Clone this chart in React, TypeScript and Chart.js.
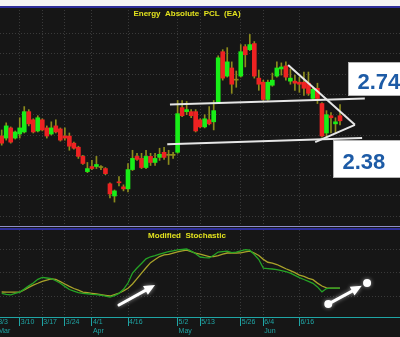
import React, { useEffect, useRef } from "react";
import { Chart, registerables } from "chart.js";

Chart.register(...registerables);

// ---- x axis (trading-day index) ----
const X_TICK_IDX = [-1, 4, 9, 14, 20, 28, 39, 44, 53, 58, 66];
const X_TICK_LABELS = ["3/3", "3/10", "3/17", "3/24", "4/1", "4/16", "5/2", "5/13", "5/26", "6/4", "6/16"];
const MONTH_LABELS = ["Mar", "", "", "", "Apr", "", "May", "", "", "Jun", ""];

// ---- price candles ----
const OPEN = [2.39, 2.37, 2.47, 2.37, 2.41, 2.43, 2.63, 2.55, 2.44, 2.55, 2.47, 2.41, 2.49, 2.46, 2.39, 2.39, 2.32, 2.28, 2.19, 2.04, 2.09, 2.09, 2.08, 2.07, 1.92, 1.80, 1.94, 1.89, 1.87, 2.06, 2.19, 2.17, 2.08, 2.19, 2.13, 2.18, 2.23, 2.20, 2.20, 2.23, 2.67, 2.63, 2.63, 2.63, 2.55, 2.48, 2.55, 2.53, 2.72, 3.22, 2.98, 3.06, 2.94, 2.98, 3.27, 3.24, 3.30, 2.96, 2.92, 2.75, 2.89, 2.98, 3.05, 3.08, 2.93, 2.93, 2.92, 2.92, 2.91, 2.76, 2.86, 2.71, 2.42, 2.59, 2.51, 2.59];
const HIGH = [2.45, 2.52, 2.48, 2.44, 2.57, 2.68, 2.65, 2.56, 2.59, 2.56, 2.49, 2.53, 2.55, 2.47, 2.47, 2.42, 2.33, 2.29, 2.20, 2.13, 2.15, 2.19, 2.10, 2.08, 1.93, 1.86, 1.99, 1.91, 2.12, 2.25, 2.22, 2.22, 2.25, 2.22, 2.22, 2.27, 2.28, 2.25, 2.23, 2.74, 2.74, 2.73, 2.65, 2.65, 2.56, 2.60, 2.68, 2.74, 3.18, 3.24, 3.26, 3.12, 3.03, 3.29, 3.29, 3.39, 3.32, 3.04, 2.94, 2.94, 3.01, 3.12, 3.11, 3.12, 3.05, 2.99, 2.97, 3.02, 3.02, 2.87, 2.91, 2.72, 2.64, 2.62, 2.57, 2.70];
const LOW = [2.30, 2.35, 2.32, 2.36, 2.37, 2.42, 2.49, 2.42, 2.43, 2.44, 2.37, 2.40, 2.42, 2.34, 2.35, 2.25, 2.26, 2.17, 2.11, 2.03, 2.06, 2.07, 2.06, 2.01, 1.78, 1.74, 1.90, 1.85, 1.84, 2.05, 2.15, 2.07, 2.07, 2.10, 2.10, 2.15, 2.16, 2.11, 2.17, 2.22, 2.58, 2.60, 2.57, 2.43, 2.47, 2.47, 2.50, 2.45, 2.71, 2.94, 2.97, 2.81, 2.87, 2.97, 3.07, 3.23, 2.96, 2.84, 2.74, 2.74, 2.88, 2.97, 2.99, 2.94, 2.90, 2.84, 2.82, 2.79, 2.79, 2.74, 2.71, 2.38, 2.38, 2.42, 2.42, 2.50];
const CLOSE = [2.32, 2.49, 2.33, 2.43, 2.47, 2.63, 2.51, 2.43, 2.57, 2.45, 2.39, 2.47, 2.43, 2.35, 2.37, 2.29, 2.27, 2.19, 2.12, 2.07, 2.07, 2.11, 2.08, 2.02, 1.82, 1.85, 1.93, 1.87, 2.06, 2.17, 2.16, 2.08, 2.19, 2.13, 2.17, 2.21, 2.18, 2.20, 2.20, 2.61, 2.59, 2.65, 2.59, 2.44, 2.48, 2.56, 2.51, 2.64, 3.16, 2.96, 3.12, 2.90, 2.94, 3.22, 3.19, 3.29, 2.98, 2.90, 2.75, 2.92, 2.94, 3.06, 3.07, 2.97, 2.96, 2.91, 2.90, 2.86, 2.81, 2.85, 2.76, 2.39, 2.60, 2.57, 2.53, 2.54];

// ---- modified stochastic ----
const STOCH_K = [23.4, 22.2, 21.5, 23.3, 25.0, 28.8, 32.9, 36.5, 41.3, 43.8, 43.0, 42.1, 39.5, 36.3, 32.3, 28.3, 26.3, 24.4, 23.4, 22.9, 22.2, 21.7, 21.0, 19.9, 18.7, 20.4, 23.4, 28.5, 36.6, 49.3, 55.7, 61.6, 67.5, 70.1, 71.6, 73.4, 75.0, 76.6, 77.7, 78.8, 79.4, 80.0, 77.3, 73.9, 69.8, 69.1, 68.6, 72.1, 76.2, 76.8, 77.3, 75.4, 76.0, 77.7, 79.1, 78.5, 73.0, 66.6, 55.7, 55.1, 54.5, 53.6, 52.5, 51.0, 49.3, 46.3, 43.5, 41.1, 38.7, 36.2, 31.6, 25.3, 29.5, 30.2, 30.2, 30.2];
const STOCH_D = [25.1, 25.0, 25.0, 25.0, 25.0, 27.9, 31.1, 34.0, 36.3, 38.8, 40.4, 41.8, 41.2, 38.4, 35.4, 32.4, 29.6, 27.4, 25.1, 24.3, 23.4, 22.6, 21.9, 20.9, 20.0, 21.8, 23.7, 26.6, 29.9, 35.3, 42.2, 49.2, 56.1, 62.6, 66.6, 70.4, 72.6, 73.2, 74.8, 76.3, 77.6, 78.6, 76.7, 74.8, 73.5, 72.0, 70.4, 70.3, 71.7, 73.4, 74.9, 74.9, 74.9, 75.0, 76.3, 77.3, 74.9, 71.7, 66.8, 63.1, 62.0, 60.2, 57.5, 54.8, 52.4, 49.8, 46.6, 45.0, 42.5, 40.9, 36.5, 32.8, 30.4, 30.2, 30.2, 30.2];

// ---- grid values ----
const PRICE_GRID = [3.4, 3.2, 3.0, 2.8, 2.6, 2.4, 2.2, 2.0, 1.8, 1.6];
const STOCH_GRID = [20, 50, 80];

// ---- annotations (data coordinates) ----
const TREND_LINES = [
  [{ x: 37.3, y: 2.70 }, { x: 80.5, y: 2.76 }],
  [{ x: 36.7, y: 2.31 }, { x: 79.9, y: 2.37 }],
  [{ x: 63.5, y: 3.09 }, { x: 78.3, y: 2.50 }],
  [{ x: 69.5, y: 2.33 }, { x: 78.3, y: 2.50 }],
];
const LEVEL_BOXES = [
  { text: "2.74", x: 76.8, top: 3.12, bottom: 2.79 },
  { text: "2.38", x: 73.5, top: 2.35, bottom: 1.99 },
];
const ARROWS = [
  { from: { x: 26.0, y: 8.5 }, to: { x: 34.0, y: 34.0 }, dots: false },
  { from: { x: 72.4, y: 9.8 }, to: { x: 81.0, y: 36.6 }, dots: true },
];

const X_MIN = -0.377;
const X_MAX = 88.3;
const GREEN = "#18ee18";
const RED = "#ee2222";
const WICK = "#8c8c1c";
const GRID = "#3a3a3a";
const TEAL = "#1fa5a5";
const FONT = '"Liberation Sans", Arial, sans-serif';

const xAxisBase = {
  type: "linear" as const,
  min: X_MIN,
  max: X_MAX,
  offset: false,
  afterBuildTicks: (s: any) => {
    s.ticks = X_TICK_IDX.map((v) => ({ value: v }));
  },
};

const topDecor = {
  id: "topDecor",
  afterDraw(chart: any) {
    const { ctx } = chart;
    const xs = chart.scales.x;
    const ys = chart.scales.y;
    ctx.save();
    ctx.font = `bold 8px ${FONT}`;
    ctx.fillStyle = "#e2e21e";
    ctx.textAlign = "center";
    ctx.textBaseline = "alphabetic";
    ctx.fillText("Energy  Absolute  PCL  (EA)", 187, 9);
    for (const b of LEVEL_BOXES) {
      const l = Math.round(xs.getPixelForValue(b.x)) + 0.5;
      const t = Math.round(ys.getPixelForValue(b.top)) + 0.5;
      const bt = Math.round(ys.getPixelForValue(b.bottom)) + 0.5;
      ctx.fillStyle = "#ffffff";
      ctx.fillRect(l, t, chart.width - l + 5, bt - t);
      ctx.strokeStyle = "#b5b5b5";
      ctx.lineWidth = 1;
      ctx.strokeRect(l, t, chart.width - l + 5, bt - t);
      ctx.fillStyle = "#1d5ba6";
      ctx.font = `bold 22px ${FONT}`;
      ctx.textAlign = "left";
      ctx.fillText(b.text, l + 9, (t + bt) / 2 + 10.3);
    }
    ctx.restore();
  },
};

function drawArrow(ctx: CanvasRenderingContext2D, x1: number, y1: number, x2: number, y2: number) {
  const ang = Math.atan2(y2 - y1, x2 - x1);
  const head = 11;
  const hw = 5;
  const bx = x2 - head * Math.cos(ang);
  const by = y2 - head * Math.sin(ang);
  ctx.beginPath();
  ctx.moveTo(x1, y1);
  ctx.lineTo(bx, by);
  ctx.stroke();
  ctx.beginPath();
  ctx.moveTo(x2, y2);
  ctx.lineTo(bx + hw * Math.sin(ang), by - hw * Math.cos(ang));
  ctx.lineTo(bx - hw * Math.sin(ang), by + hw * Math.cos(ang));
  ctx.closePath();
  ctx.fill();
}

const bottomDecor = {
  id: "bottomDecor",
  afterDatasetsDraw(chart: any) {
    const { ctx } = chart;
    const xs = chart.scales.x;
    const ys = chart.scales.y;
    ctx.save();
    ctx.font = `bold 8px ${FONT}`;
    ctx.fillStyle = "#e2e21e";
    ctx.textAlign = "center";
    ctx.textBaseline = "alphabetic";
    ctx.fillText("Modified  Stochastic", 187, 7.5);

    ctx.strokeStyle = "#ffffff";
    ctx.fillStyle = "#ffffff";
    ctx.lineWidth = 3;
    ctx.lineCap = "round";
    ctx.shadowColor = "rgba(255,255,255,0.55)";
    ctx.shadowBlur = 4;
    for (const a of ARROWS) {
      const x1 = xs.getPixelForValue(a.from.x);
      const y1 = ys.getPixelForValue(a.from.y);
      const x2 = xs.getPixelForValue(a.to.x);
      const y2 = ys.getPixelForValue(a.to.y);
      if (a.dots) {
        const ang = Math.atan2(y2 - y1, x2 - x1);
        const r = 4;
        const tx = x2 - (r + 2) * Math.cos(ang);
        const ty = y2 - (r + 2) * Math.sin(ang);
        const sx = x1 + r * Math.cos(ang);
        const sy = y1 + r * Math.sin(ang);
        drawArrow(ctx, sx, sy, tx, ty);
        for (const [cx, cy] of [[x1, y1], [x2, y2]]) {
          ctx.beginPath();
          ctx.arc(cx, cy, r, 0, Math.PI * 2);
          ctx.fill();
        }
      } else {
        drawArrow(ctx, x1, y1, x2, y2);
      }
    }
    ctx.restore();
  },
};

export default function App() {
  const topRef = useRef<HTMLCanvasElement>(null);
  const botRef = useRef<HTMLCanvasElement>(null);

  useEffect(() => {
    document.body.style.margin = "0";
    document.body.style.background = "#161616";

    const bodyColors = OPEN.map((o, i) => (CLOSE[i] > o ? GREEN : CLOSE[i] < o ? RED : WICK));

    const top = new Chart(topRef.current as HTMLCanvasElement, {
      type: "bar",
      data: {
        datasets: [
          {
            type: "bar",
            label: "wick",
            data: HIGH.map((h, i) => ({ x: i, y: [LOW[i], h] })) as any,
            backgroundColor: WICK,
            barThickness: 1,
            grouped: false,
            order: 3,
          } as any,
          {
            type: "bar",
            label: "body",
            data: OPEN.map((o, i) => ({ x: i, y: [o, CLOSE[i]] })) as any,
            backgroundColor: bodyColors,
            barThickness: 4,
            minBarLength: 1,
            grouped: false,
            order: 2,
          } as any,
          ...TREND_LINES.map(
            (pts) =>
              ({
                type: "line",
                label: "trend",
                data: pts,
                borderColor: "#e6e6e6",
                borderWidth: 2,
                pointRadius: 0,
                order: 1,
              }) as any
          ),
        ],
      },
      options: {
        responsive: false,
        animation: false,
        devicePixelRatio: 1,
        events: [],
        layout: { padding: 0 },
        plugins: { legend: { display: false }, tooltip: { enabled: false } },
        scales: {
          x: {
            ...xAxisBase,
            ticks: { display: false },
            grid: { color: GRID, drawTicks: false, offset: false },
            border: { display: false, dash: [1, 2] },
            afterFit: (s: any) => {
              s.height = 0;
              s.paddingLeft = 0;
              s.paddingRight = 0;
            },
          } as any,
          y: {
            type: "linear",
            min: 1.485,
            max: 3.66,
            afterBuildTicks: (s: any) => {
              s.ticks = PRICE_GRID.map((v) => ({ value: v }));
            },
            ticks: { display: false },
            grid: { color: GRID, drawTicks: false },
            border: { display: false, dash: [1, 2] },
            afterFit: (s: any) => {
              s.width = 0;
              s.paddingTop = 0;
              s.paddingBottom = 0;
            },
          } as any,
        },
      },
      plugins: [topDecor],
    });

    const bot = new Chart(botRef.current as HTMLCanvasElement, {
      type: "line",
      data: {
        datasets: [
          {
            label: "%D",
            data: STOCH_D.map((v, i) => ({ x: i, y: v })),
            borderColor: "#a9a22a",
            borderWidth: 1.3,
            pointRadius: 0,
            tension: 0,
            order: 2,
          },
          {
            label: "%K",
            data: STOCH_K.map((v, i) => ({ x: i, y: v })),
            borderColor: "#25a325",
            borderWidth: 1.3,
            pointRadius: 0,
            tension: 0,
            order: 1,
          },
        ],
      },
      options: {
        responsive: false,
        animation: false,
        devicePixelRatio: 1,
        events: [],
        layout: { padding: 0 },
        plugins: { legend: { display: false }, tooltip: { enabled: false } },
        scales: {
          x: {
            ...xAxisBase,
            ticks: {
              display: true,
              autoSkip: false,
              maxRotation: 0,
              minRotation: 0,
              align: "start",
              padding: -8,
              labelOffset: 1,
              color: TEAL,
              font: { family: FONT, size: 7 },
              callback: (_v: any, i: number) =>
                MONTH_LABELS[i] ? [X_TICK_LABELS[i], MONTH_LABELS[i]] : X_TICK_LABELS[i],
            },
            grid: { color: GRID, tickColor: TEAL, tickLength: 9, drawTicks: true, offset: false, tickBorderDash: [] },
            border: { display: true, color: TEAL, width: 1, dash: [1, 2] },
            afterFit: (s: any) => {
              s.height = 20;
              s.paddingLeft = 0;
              s.paddingRight = 0;
            },
          } as any,
          y: {
            type: "linear",
            min: -6.8,
            max: 104.3,
            afterBuildTicks: (s: any) => {
              s.ticks = STOCH_GRID.map((v) => ({ value: v }));
            },
            ticks: { display: false },
            grid: { color: GRID, drawTicks: false },
            border: { display: false, dash: [1, 2] },
            afterFit: (s: any) => {
              s.width = 0;
              s.paddingTop = 0;
              s.paddingBottom = 0;
            },
          } as any,
        },
      },
      plugins: [bottomDecor],
    });

    return () => {
      top.destroy();
      bot.destroy();
    };
  }, []);

  return (
    <div style={{ position: "relative", width: 400, height: 337, background: "#161616", overflow: "hidden" }}>
      <div style={{ position: "absolute", left: 0, top: 0, width: 400, height: 6, background: "#f3f3f3" }} />
      <div style={{ position: "absolute", left: 0, top: 7, width: 400, height: 221 }}>
        <canvas ref={topRef} width={400} height={221} style={{ display: "block" }} />
      </div>
      <div style={{ position: "absolute", left: 0, top: 6, width: 400, height: 2, background: "#2d2d9a" }} />
      <div style={{ position: "absolute", left: 0, top: 226, width: 400, height: 1, background: "#8e8ec8" }} />
      <div style={{ position: "absolute", left: 0, top: 228, width: 400, height: 2, background: "#2d2d9a" }} />
      <div style={{ position: "absolute", left: 0, top: 230, width: 400, height: 107 }}>
        <canvas ref={botRef} width={400} height={107} style={{ display: "block" }} />
      </div>
    </div>
  );
}
